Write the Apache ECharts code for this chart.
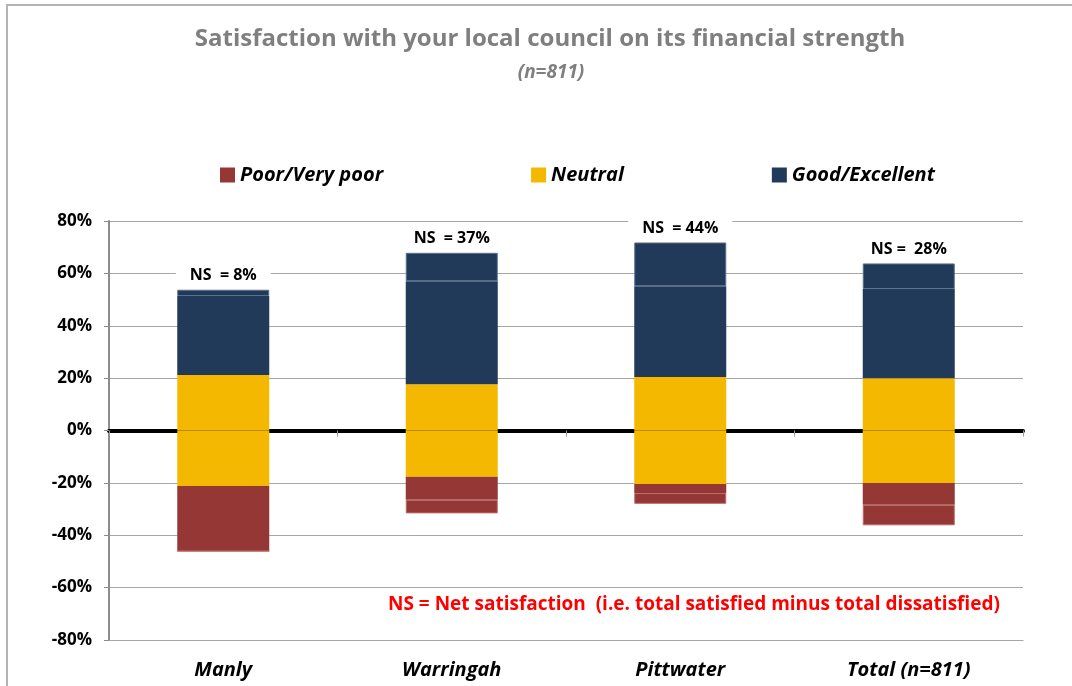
<!DOCTYPE html>
<html>
<head>
<meta charset="utf-8">
<script src="https://cdn.jsdelivr.net/npm/echarts@6/dist/echarts.min.js"></script>
<style>
html,body{margin:0;padding:0;background:#fff;}
#chart{width:1072px;height:686px;}
</style>
</head>
<body>
<div id="chart"></div>
<script>
const categories = ['Manly', 'Warringah', 'Pittwater', 'Total (n=811)'];
const neutral   = [42.3, 35.3, 40.8, 40.0];
const good      = [30.2, 39.3, 34.7, 34.0];
const excellent = [2.4, 10.9, 16.7, 9.8];
const poor      = [24.9, 8.8, 3.5, 8.4];
const veryPoor  = [0, 5.2, 4.1, 7.8];
const nsLabels  = ['NS  = 8%', 'NS  = 37%', 'NS  = 44%', 'NS =  28%'];
const yTicks    = [-80, -60, -40, -20, 0, 20, 40, 60, 80];

const C_POOR = '#953735', C_NEU = '#F5B800', C_GOOD = '#213A5A';
const FONT = '"Open Sans", "Noto Sans", sans-serif';

const chart = echarts.init(document.getElementById('chart'));
const half = neutral.map(v => v / 2);
const neg = a => a.map(v => -v);

chart.setOption({
  animation: false,
  backgroundColor: '#fff',
  title: [{
    text: 'Satisfaction with your local council on its financial strength',
    left: 545, top: 22, textAlign: 'center',
    textStyle: {color: '#7f7f7f', fontSize: 24, fontWeight: 'bold', fontFamily: FONT}
  }, {
    text: '(n=811)',
    left: 546, top: 58, textAlign: 'center',
    textStyle: {color: '#7f7f7f', fontSize: 19, fontWeight: 'bold', fontStyle: 'italic', fontFamily: FONT}
  }],
  legend: {
    data: ['Poor/Very poor', 'Neutral', 'Good/Excellent'],
    left: 215, top: 160, itemWidth: 15, itemHeight: 15, itemGap: 148,
    icon: 'rect',
    textStyle: {color: '#000', fontSize: 20, fontWeight: 'bold', fontStyle: 'italic', fontFamily: FONT}
  },
  grid: {left: 109, right: 49, top: 221, bottom: 46},
  xAxis: [{
    type: 'category', data: categories,
    axisLine: {onZero: true, lineStyle: {color: '#000', width: 4}},
    axisTick: {show: true, length: 6, lineStyle: {color: '#999'}},
    axisLabel: {show: false}
  }, {
    type: 'category', data: categories, position: 'bottom',
    axisLine: {onZero: false, show: true, lineStyle: {color: '#a6a6a6', width: 1}},
    axisTick: {show: false},
    axisLabel: {color: '#000', fontSize: 20, fontWeight: 'bold', fontStyle: 'italic', fontFamily: FONT, margin: 20}
  }],
  yAxis: {
    type: 'value', min: -80, max: 80, interval: 20,
    axisLine: {show: true, lineStyle: {color: '#8c8c8c', width: 2}},
    axisTick: {show: true, length: 5, lineStyle: {color: '#8c8c8c'}},
    splitLine: {lineStyle: {color: '#a6a6a6', width: 1}},
    axisLabel: {
      color: '#000', fontSize: 17, fontWeight: 'bold', fontFamily: FONT, margin: 17,
      formatter: v => yTicks.includes(v) ? v + '%' : ''
    }
  },
  series: [
    {name: 'Neutral', type: 'bar', stack: 'pos', data: half, barWidth: 92, barGap: '-100%',
     itemStyle: {color: C_NEU}},
    {name: 'Good/Excellent', type: 'bar', stack: 'pos', data: good, barWidth: 92, barGap: '-100%',
     itemStyle: {color: C_GOOD}},
    {name: 'Good/Excellent', type: 'bar', stack: 'pos', data: excellent, barWidth: 92, barGap: '-100%',
     itemStyle: {color: C_GOOD, borderColor: '#5b6f8c', borderWidth: 1},
     label: {show: true, position: 'top', distance: 4,
       formatter: p => nsLabels[p.dataIndex],
       color: '#000', fontSize: 16, fontWeight: 'bold', fontFamily: FONT,
       backgroundColor: '#fff', padding: [2, 14]}},
    {name: 'Neutral', type: 'bar', stack: 'neg', data: neg(half), barWidth: 92, barGap: '-100%',
     itemStyle: {color: C_NEU}},
    {name: 'Poor/Very poor', type: 'bar', stack: 'neg', data: neg(poor), barWidth: 92, barGap: '-100%',
     itemStyle: {color: C_POOR}},
    {name: 'Poor/Very poor', type: 'bar', stack: 'neg', data: neg(veryPoor), barWidth: 92, barGap: '-100%',
     itemStyle: {color: C_POOR, borderColor: '#b86a68', borderWidth: 1}}
  ],
  graphic: [{
    type: 'rect', silent: true,
    shape: {x: 7, y: 5, width: 1200, height: 800},
    style: {fill: 'none', stroke: '#b3b3b3', lineWidth: 2}
  }, {
    type: 'text', left: 388, top: 595, silent: true,
    style: {text: 'NS = Net satisfaction  (i.e. total satisfied minus total dissatisfied)',
      fill: '#ff0000', fontSize: 19, fontWeight: 'bold', fontFamily: FONT}
  }]
});
</script>
</body>
</html>
